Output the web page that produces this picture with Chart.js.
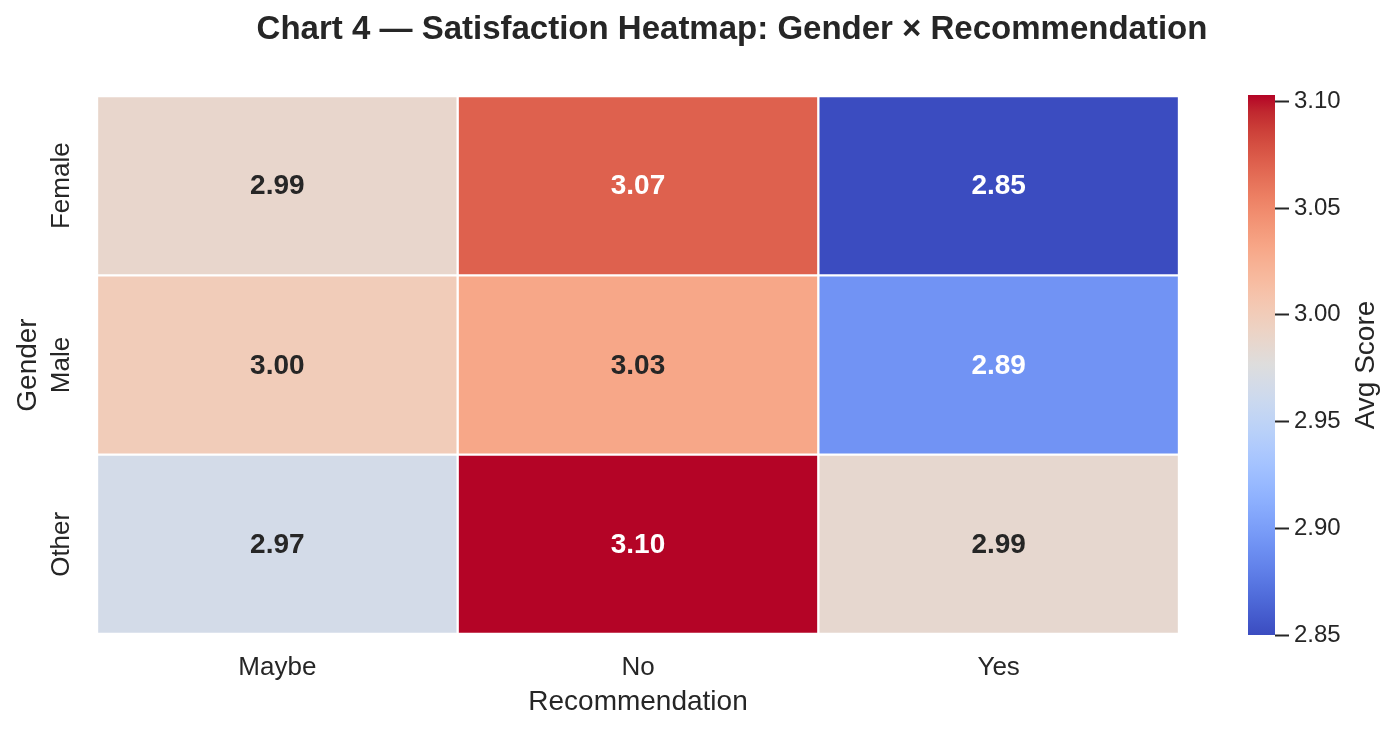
<!DOCTYPE html>
<html>
<head>
<meta charset="utf-8">
<script src="https://cdn.jsdelivr.net/npm/chart.js@4.4.1/dist/chart.umd.min.js"></script>
<style>
  html, body { margin: 0; padding: 0; background: #ffffff; }
  #wrap { position: relative; width: 1396px; height: 731px; overflow: hidden; background: #fff; }
  #title { position: absolute; left: 0; top: 8px; width: 1464px; text-align: center;
           font-family: "Liberation Sans", Arial, sans-serif; font-weight: bold; font-size: 33px;
           line-height: 40px; color: #262626; white-space: nowrap; }
  #main { position: absolute; left: 0; top: 0; }
  #cbar { position: absolute; left: 1200px; top: 0; }
</style>
</head>
<body>
<div id="wrap">
  <canvas id="main" width="1200" height="731"></canvas>
  <canvas id="cbar" width="196" height="731"></canvas>
  <div id="title">Chart 4 — Satisfaction Heatmap: Gender × Recommendation</div>
</div>
<script>
// ---------------- DATA ----------------
const recommendations = ['Maybe', 'No', 'Yes'];
const genders = ['Female', 'Male', 'Other'];
const femaleScores = [2.988, 3.071, 2.850];
const maleScores   = [3.000, 3.031, 2.893];
const otherScores  = [2.967, 3.103, 2.986];
const colorbarTicks = [2.85, 2.90, 2.95, 3.00, 3.05, 3.10];
const xAxisTitle = 'Recommendation';
const yAxisTitle = 'Gender';
const colorbarTitle = 'Avg Score';

// ---------------- COLORMAP (coolwarm) ----------------
const coolwarm = [
  [59,76,192],[68,90,204],[77,104,215],[87,117,225],[98,130,234],[108,142,241],[119,154,247],[130,165,251],
  [141,176,254],[152,185,255],[163,194,255],[174,201,253],[184,208,249],[194,213,244],[204,217,238],[213,219,230],
  [221,221,221],[229,216,209],[236,211,197],[241,204,185],[245,196,173],[247,187,160],[247,177,148],[247,166,135],
  [244,154,123],[241,141,111],[236,127,99],[229,112,88],[222,96,77],[213,80,66],[203,62,56],[192,40,47],[180,4,38]
];
function cmapRGB(t) {
  t = Math.max(0, Math.min(1, t));
  const p = t * (coolwarm.length - 1);
  const i = Math.min(Math.floor(p), coolwarm.length - 2);
  const f = p - i;
  const a = coolwarm[i], b = coolwarm[i + 1];
  return [0, 1, 2].map(k => Math.round(a[k] + (b[k] - a[k]) * f));
}
const rgbStr = c => `rgb(${c[0]},${c[1]},${c[2]})`;

const scoreRows = [femaleScores, maleScores, otherScores];
const allScores = scoreRows.flat();
const vmin = Math.min(...allScores);
const vmax = Math.max(...allScores);
const norm = v => (v - vmin) / (vmax - vmin);

function luminance(c) {
  const lin = c.map(v => { v /= 255; return v <= 0.03928 ? v / 12.92 : Math.pow((v + 0.055) / 1.055, 2.4); });
  return 0.2126 * lin[0] + 0.7152 * lin[1] + 0.0722 * lin[2];
}

const FONT = '"Liberation Sans", Arial, sans-serif';
const TXT = '#262626';

// ---------------- HEATMAP ----------------
const datasets = scoreRows.map((row, r) => ({
  label: genders[r],
  data: row.map(() => [r, r + 1]),
  scores: row,
  backgroundColor: row.map(v => rgbStr(cmapRGB(norm(v)))),
  borderColor: '#ffffff',
  borderWidth: 1.5,
  borderSkipped: false,
  grouped: false,
  barPercentage: 1.0,
  categoryPercentage: 1.0
}));

const annotatePlugin = {
  id: 'annotate',
  afterDatasetsDraw(chart) {
    const ctx = chart.ctx;
    ctx.save();
    ctx.font = `bold 28px ${FONT}`;
    ctx.textAlign = 'center';
    ctx.textBaseline = 'middle';
    chart.data.datasets.forEach((ds, di) => {
      const meta = chart.getDatasetMeta(di);
      meta.data.forEach((el, i) => {
        const v = ds.scores[i];
        const c = cmapRGB(norm(v));
        ctx.fillStyle = luminance(c) > 0.408 ? TXT : '#ffffff';
        const p = el.getProps(['x', 'y', 'base'], true);
        ctx.fillText(v.toFixed(2), p.x, (p.y + p.base) / 2 + 1);
      });
    });
    ctx.restore();
  }
};

new Chart(document.getElementById('main'), {
  type: 'bar',
  data: { labels: recommendations, datasets },
  options: {
    responsive: false,
    animation: false,
    devicePixelRatio: 1,
    layout: { padding: { left: 0, top: 96, right: 21, bottom: 0 } },
    plugins: { legend: { display: false }, tooltip: { enabled: false }, title: { display: false } },
    scales: {
      x: {
        type: 'category',
        grid: { display: false, drawTicks: false },
        border: { display: false },
        ticks: { color: TXT, font: { family: FONT, size: 26 }, padding: 18 },
        title: { display: true, text: xAxisTitle, color: TXT, font: { family: FONT, size: 28 }, padding: { top: 0, bottom: 12 } },
        afterFit(s) { s.height = 97; }
      },
      y: {
        type: 'linear',
        min: 0, max: 3, reverse: true,
        grid: { display: false, drawTicks: false },
        border: { display: false },
        afterBuildTicks(s) { s.ticks = genders.map((g, i) => ({ value: i + 0.5 })); },
        ticks: {
          color: TXT, font: { family: FONT, size: 26 },
          minRotation: 90, maxRotation: 90, crossAlign: 'center', padding: -8,
          callback: v => genders[Math.floor(v)]
        },
        title: { display: true, text: yAxisTitle, color: TXT, font: { family: FONT, size: 28 }, padding: { top: 11, bottom: 0 } },
        afterFit(s) { s.width = 97; }
      }
    }
  },
  plugins: [annotatePlugin]
});

// ---------------- COLORBAR ----------------
const cbTitlePlugin = {
  id: 'cbTitle',
  afterDraw(chart) {
    const ctx = chart.ctx;
    const a = chart.chartArea;
    ctx.save();
    ctx.translate(166, (a.top + a.bottom) / 2);
    ctx.rotate(-Math.PI / 2);
    ctx.font = `28px ${FONT}`;
    ctx.fillStyle = TXT;
    ctx.textAlign = 'center';
    ctx.textBaseline = 'middle';
    ctx.fillText(colorbarTitle, 0, 0);
    ctx.restore();
  }
};

new Chart(document.getElementById('cbar'), {
  type: 'bar',
  data: {
    labels: [colorbarTitle],
    datasets: [{
      data: [[vmin, vmax]],
      backgroundColor(context) {
        const area = context.chart.chartArea;
        if (!area) return '#ddd';
        const g = context.chart.ctx.createLinearGradient(0, area.bottom, 0, area.top);
        coolwarm.forEach((c, i) => g.addColorStop(i / (coolwarm.length - 1), rgbStr(c)));
        return g;
      },
      borderWidth: 0,
      barPercentage: 1.0,
      categoryPercentage: 1.0
    }]
  },
  options: {
    responsive: false,
    animation: false,
    devicePixelRatio: 1,
    layout: { padding: { left: 48, top: 95, right: 0, bottom: 96 } },
    plugins: { legend: { display: false }, tooltip: { enabled: false } },
    scales: {
      x: { display: false },
      y: {
        position: 'right',
        min: vmin, max: vmax,
        afterBuildTicks(s) { s.ticks = colorbarTicks.map(v => ({ value: v })); },
        grid: { display: true, drawOnChartArea: false, drawTicks: true, tickLength: 14, tickWidth: 2, tickColor: TXT },
        border: { display: false },
        ticks: { color: TXT, font: { family: FONT, size: 24 }, padding: 5, callback: v => Number(v).toFixed(2) },
        afterFit(s) { s.width = 121; }
      }
    }
  },
  plugins: [cbTitlePlugin]
});
</script>
</body>
</html>
